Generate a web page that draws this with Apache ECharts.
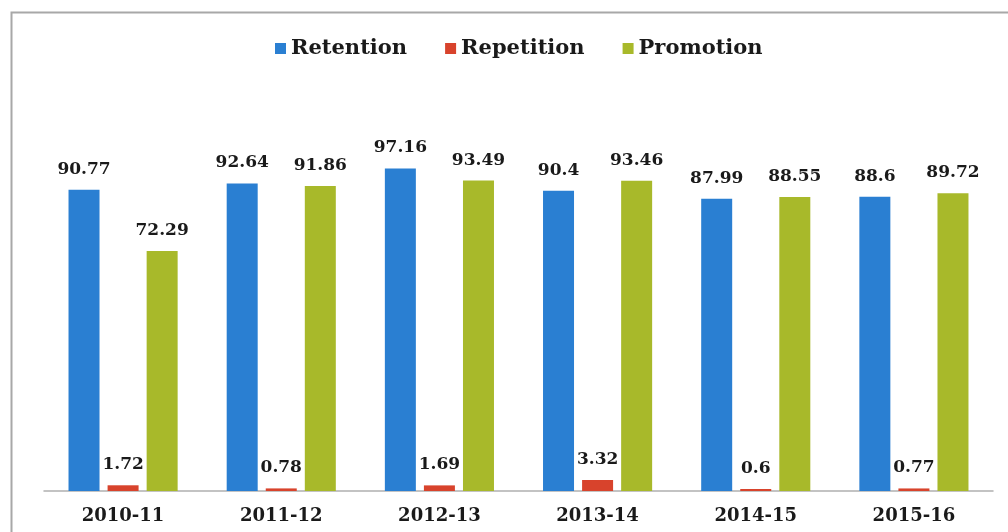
<!DOCTYPE html>
<html>
<head>
    <meta charset="utf-8">
    <title>ECharts</title>
    <script src="https://cdn.jsdelivr.net/npm/echarts@6/dist/echarts.min.js"></script>
</head>
<body style="margin:0">
    <div id="main" style="width: 1008px;height:532px;"></div>
    <script type="text/javascript">

var years = ['2010-11', '2011-12', '2012-13', '2013-14', '2014-15', '2015-16'];
var retention = [90.77, 92.64, 97.16, 90.4, 87.99, 88.6];
var repetition = [1.72, 0.78, 1.69, 3.32, 0.6, 0.77];
var promotion = [72.29, 91.86, 93.49, 93.46, 88.55, 89.72];

var myChart = echarts.init(document.getElementById('main'));

var font = '"DejaVu Serif", "Liberation Serif", serif';

function barSeries(name, data, color) {
    return {
        name: name,
        type: 'bar',
        data: data,
        barWidth: 31,
        barGap: '26%',
        itemStyle: { color: color },
        label: {
            show: true,
            position: 'top',
            distance: 12,
            color: '#1a1a1a',
            fontFamily: font,
            fontWeight: 'bold',
            fontSize: 17
        }
    };
}

var option = {
    backgroundColor: '#fff',
    animation: false,
    graphic: [{
        type: 'rect',
        shape: { x: 11.5, y: 12.5, width: 1010, height: 530 },
        style: { fill: 'none', stroke: '#a8a8a8', lineWidth: 2 }
    }],
    legend: {
        top: 33,
        left: 270,
        itemWidth: 11,
        itemHeight: 11,
        itemGap: 38,
        icon: 'rect',
        textStyle: {
            fontFamily: font,
            fontWeight: 'bold',
            fontSize: 21,
            color: '#1a1a1a'
        }
    },
    grid: { left: 44, right: 15, top: 159, bottom: 41 },
    xAxis: {
        type: 'category',
        data: years,
        axisTick: { show: false },
        axisLine: { lineStyle: { color: '#b0b0b0', width: 1.5 } },
        axisLabel: {
            margin: 16,
            color: '#1a1a1a',
            fontFamily: font,
            fontWeight: 'bold',
            fontSize: 18
        }
    },
    yAxis: {
        type: 'value',
        min: 0,
        max: 100,
        show: false
    },
    series: [
        barSeries('Retention', retention, '#2a7fd2'),
        barSeries('Repetition', repetition, '#d8432c'),
        barSeries('Promotion', promotion, '#a8b92a')
    ]
};

myChart.setOption(option);

    </script>
</body>
</html>
